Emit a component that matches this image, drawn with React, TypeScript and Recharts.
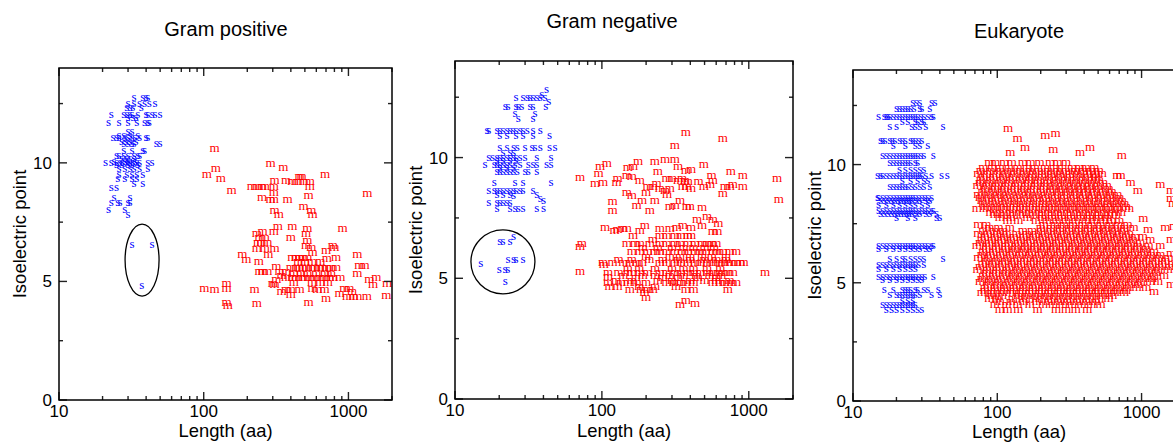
import React from "react";
import { ScatterChart, Scatter, XAxis, YAxis, ReferenceDot } from "recharts";

// [isoelectric point, lengths in aa] – one row of markers per pI level
type Row = [number, number[]];

const xTicks = [10, 20, 30, 40, 50, 60, 70, 80, 90, 100, 200, 300, 400, 500, 600, 700, 800, 900, 1000, 2000];
const xMajor = [10, 100, 1000];
const yTicks = [0, 2.5, 5, 7.5, 10, 12.5];
const yMajor = [0, 5, 10];

const gramPosS: Row[] = [
  [12.75, [33, 38, 40, 41]],
  [12.5, [30, 33, 36, 39, 42, 46]],
  [12.3, [29.4, 31, 32.4, 37]],
  [12.0, [23, 28, 29.5, 31, 32, 35, 40, 41, 44, 46, 50]],
  [11.9, [30, 32.5, 34]],
  [11.7, [22, 26, 30, 34.5, 39, 41, 42]],
  [11.3, [30, 32]],
  [11.15, [26, 28, 31, 35]],
  [11.05, [23.6, 25, 26, 28.5, 30, 32, 33.4, 36, 40, 41]],
  [10.9, [27, 29, 31, 34]],
  [10.8, [28, 30, 32, 33, 47, 50]],
  [10.5, [28, 32, 38, 39]],
  [10.3, [25, 26, 28, 30, 33, 35, 36]],
  [10.15, [27, 29, 31, 33]],
  [10.05, [24, 28.5, 30, 33.5]],
  [10.0, [21, 23, 25, 26.4, 27.5, 29.4, 31, 32.4, 34.5, 36, 41, 44]],
  [9.9, [25, 27, 30, 32, 35]],
  [9.75, [26, 28.5, 31, 33, 36, 41]],
  [9.5, [26, 29.4, 32, 34.5, 38]],
  [9.3, [25.5, 28.5, 32, 34.5]],
  [9.1, [33, 38]],
  [8.95, [23, 25]],
  [8.5, [24, 31]],
  [8.3, [23, 25.5, 26.4, 30, 31]],
  [8.0, [22, 28.5]],
  [7.8, [30]],
  [6.55, [32, 44]],
  [4.8, [37.3]],
];

const gramPosM: Row[] = [
  [10.6, [119]],
  [9.95, [290]],
  [9.8, [355]],
  [9.75, [121]],
  [9.5, [105, 690]],
  [9.4, [459, 475]],
  [9.3, [131]],
  [9.25, [309, 370]],
  [9.2, [410, 445, 490, 540]],
  [9.0, [215, 233, 253, 264, 305, 540]],
  [8.8, [156]],
  [8.75, [305]],
  [8.7, [1350]],
  [8.6, [530]],
  [8.5, [253]],
  [8.45, [290, 305, 380]],
  [8.15, [490]],
  [7.95, [309, 555]],
  [7.8, [330, 565]],
  [7.3, [325, 410]],
  [7.2, [520, 910]],
  [7.1, [255, 305]],
  [7.0, [233, 510]],
  [6.85, [243, 264, 400]],
  [6.7, [520]],
  [6.6, [237, 250, 275]],
  [6.5, [510, 780]],
  [6.4, [555, 800]],
  [6.35, [233, 264, 309]],
  [6.3, [700]],
  [6.2, [565]],
  [6.1, [185, 280, 1150]],
  [6.0, [410, 437, 459, 482, 520, 820]],
  [5.95, [710]],
  [5.9, [197]],
  [5.8, [240, 450, 500, 560, 640]],
  [5.65, [1190, 1290]],
  [5.6, [318]],
  [5.55, [400, 437, 459, 482, 510, 555, 583, 631, 660, 710, 760, 820]],
  [5.4, [243, 255, 275, 334, 370]],
  [5.3, [420, 470, 520, 600, 690, 760, 1150]],
  [5.25, [345]],
  [5.15, [370, 410, 437, 475, 500, 540, 583, 631, 680, 740, 780, 880, 1560]],
  [5.04, [318, 1396]],
  [4.95, [420, 560, 640, 720]],
  [4.9, [144, 300, 1850]],
  [4.83, [309, 1480]],
  [4.7, [101, 938, 1016]],
  [4.66, [144, 565]],
  [4.62, [119, 225, 370, 400, 459, 610, 683]],
  [4.55, [345, 1060]],
  [4.45, [867]],
  [4.41, [400]],
  [4.4, [1830]],
  [4.33, [980, 1080, 1150, 1340]],
  [4.28, [700]],
  [4.1, [530]],
  [4.07, [144]],
  [4.03, [233]],
  [3.95, [147]],
];

const gramNegS: Row[] = [
  [12.8, [42]],
  [12.6, [39]],
  [12.45, [26, 29, 31, 32.4, 34, 36, 38, 41]],
  [12.3, [43.5]],
  [12.1, [22, 23, 26, 27, 28.5, 32.4, 34, 41.5]],
  [11.8, [25.6, 35]],
  [11.6, [27, 34]],
  [11.1, [16.5, 17, 19.3, 20.2, 21.2, 22.6, 23.7, 24.8, 26, 27.7, 29, 31, 34, 38]],
  [10.9, [20.2, 22.6, 26, 29, 34, 44]],
  [10.4, [20.2, 22.6, 25, 26.5, 30, 33.4, 35, 38, 44, 48]],
  [10.2, [21.2, 23.7, 25]],
  [10.0, [17, 18, 19.3, 20.2, 21.2, 22.5, 23.7, 25, 26, 27.7, 30, 36, 45]],
  [9.85, [19.3, 21.2, 23.7, 26]],
  [9.7, [16, 18.5, 19.3, 20.2, 21.2, 22.5, 23.7, 25.6, 27.7, 31.5, 34, 36, 42, 45]],
  [9.55, [20.2, 22.5, 25]],
  [9.4, [19.3, 20.2, 21.2, 22.5, 23.7, 25, 26.5, 30, 31.5, 36]],
  [8.95, [18.5, 25.6, 29, 45]],
  [8.6, [17, 18.5, 19.3, 20.2, 21.2, 22.5, 23.7, 25, 26, 27.7, 29, 34]],
  [8.45, [19.3, 21.2, 23.7, 36]],
  [8.4, [25]],
  [8.3, [38]],
  [8.2, [40]],
  [8.1, [17, 19.3, 20.2, 21.2, 22.5, 23.7]],
  [7.85, [19.3, 23.7, 25.6, 27, 29, 36, 40]],
  [6.7, [25]],
  [6.5, [20.2, 21.2, 23.7]],
  [5.75, [23, 25, 26, 29]],
  [5.6, [15]],
  [5.35, [20, 21.9, 22.9]],
  [4.83, [22]],
];

const gramNegM: Row[] = [
  [11.0, [372]],
  [10.75, [665]],
  [10.5, [314]],
  [9.9, [269, 314]],
  [9.8, [176, 229]],
  [9.75, [108]],
  [9.7, [495]],
  [9.6, [97, 330]],
  [9.62, [163]],
  [9.55, [150]],
  [9.5, [405]],
  [9.45, [372]],
  [9.4, [240, 755]],
  [9.3, [95]],
  [9.25, [148, 557, 910]],
  [9.2, [160]],
  [9.15, [71]],
  [9.1, [128, 276, 300, 352, 1560]],
  [9.05, [181, 330, 368, 570]],
  [9.0, [385, 455]],
  [8.95, [102, 126]],
  [8.9, [90, 236]],
  [8.85, [545, 780]],
  [8.8, [205, 222, 356, 378, 495, 688, 744, 910]],
  [8.7, [248, 290, 405]],
  [8.6, [269]],
  [8.55, [148, 200]],
  [8.5, [665]],
  [8.45, [278]],
  [8.4, [160]],
  [8.25, [1600]],
  [8.2, [188, 229, 340]],
  [8.15, [118]],
  [8.0, [172, 314]],
  [7.95, [290, 378, 397]],
  [7.9, [480]],
  [7.8, [118, 212]],
  [7.55, [520]],
  [7.4, [445, 570]],
  [7.25, [620]],
  [7.15, [196, 356, 480]],
  [7.1, [105, 323, 405]],
  [7.05, [138, 148, 248, 290]],
  [7.0, [128]],
  [6.95, [122, 181]],
  [6.9, [570, 610]],
  [6.75, [163, 248, 276, 314, 345, 385, 405]],
  [6.6, [222]],
  [6.4, [73, 148, 168, 181, 212, 248, 276, 314, 340, 385, 430, 480, 520, 560, 600]],
  [6.3, [71]],
  [6.25, [190, 240, 300, 360, 420, 500, 580]],
  [6.1, [160, 181, 205, 229, 248, 276, 314, 352, 385, 430, 465, 510, 570, 610, 665, 744, 820]],
  [5.9, [200, 290, 340, 400, 480, 560, 700]],
  [5.75, [130, 160, 210, 260, 330, 400, 500, 600, 700]],
  [5.65, [102, 118, 140, 155, 172, 188, 248, 276, 314, 345, 385, 430, 470, 520, 570, 620, 665, 720, 760, 820, 880, 920]],
  [5.55, [103]],
  [5.4, [150, 180, 230, 300, 360, 420, 520, 640]],
  [5.25, [71]],
  [5.2, [110, 130, 150, 160, 181, 205, 248, 276, 314, 345, 385, 420, 470, 520, 570, 620, 665, 720, 780, 1290]],
  [5.1, [140, 190, 230, 290, 360, 440, 540, 650]],
  [5.05, [110]],
  [5.0, [170, 260, 330, 450, 600]],
  [4.9, [125, 160, 240, 300, 400, 500, 600, 740]],
  [4.8, [110, 135, 150, 172, 200, 276, 310, 345, 372, 420, 570, 640, 690, 760, 820]],
  [4.65, [113, 128, 180, 230, 320]],
  [4.5, [155, 185, 205, 222, 372, 420, 720]],
  [4.4, [195]],
  [4.2, [200]],
  [4.05, [372]],
  [3.95, [430]],
  [3.9, [340]],
];

const eukS: Row[] = [
  [12.6, [26, 27.5, 29, 35, 37]],
  [12.35, [20, 21, 22, 23, 24, 25, 26.5, 29, 30, 34]],
  [12.0, [15, 16.5, 17, 17.5, 18, 19, 20, 21, 22, 23, 24, 25, 26, 27, 28, 29.5, 31, 33, 35, 36]],
  [11.8, [22, 24, 27, 28, 30, 31]],
  [11.6, [18, 20, 25.5, 27, 29, 32, 42]],
  [11.0, [15.5, 16, 16.7, 18, 18.7, 19.5, 21, 22, 23, 25, 26, 27, 28.5, 30]],
  [10.8, [19, 23, 27, 29, 33]],
  [10.35, [16, 17, 18, 19, 20, 21, 22, 23, 24, 25, 26, 27, 28, 29.5, 31, 36]],
  [10.05, [18, 19, 20, 21, 22, 23, 24, 25, 27, 28]],
  [9.75, [21, 23, 25, 27, 29, 31]],
  [9.5, [14.8, 15.5, 16, 17, 18, 19, 20, 21, 22, 23, 24, 25, 26, 27, 28, 29, 30, 32, 35, 41, 45]],
  [9.3, [22, 25, 28, 31, 33]],
  [9.05, [18, 19, 20, 21, 22, 23, 24, 25.5, 27, 29, 31, 34]],
  [8.6, [14.8, 15, 16, 17, 18, 19, 20, 21, 22, 23, 24, 25, 26, 27, 28.5, 30, 31.5, 33, 35]],
  [8.45, [15.5, 16.5, 17.5, 18.5, 19.5, 20.5, 21.5, 22.5, 23.5, 24.5, 25.5, 27.5, 29, 32, 34]],
  [8.3, [15, 17, 19, 21, 23, 25, 27, 30, 33]],
  [8.05, [15, 16, 17, 18, 19, 20, 21, 22, 23, 24, 25, 26, 27, 28.5, 30, 31.5, 33, 35, 36]],
  [7.9, [15.5, 16.5, 17.5, 18.5, 19.5, 20.5, 21.5, 22.5, 23.5, 24.5, 25.5, 27.5, 29, 32, 34, 38]],
  [7.75, [20, 24, 27, 38, 40]],
  [6.55, [15, 16, 17, 18, 19, 20, 21, 22, 23, 24, 25, 26, 27, 28.5, 30, 31.5, 33, 35, 36]],
  [6.45, [15, 17, 19, 21, 23, 25, 27, 29, 32, 34]],
  [6.0, [18, 20, 22, 23, 25, 27, 29, 31, 42]],
  [5.75, [15, 16, 17, 18, 19, 20, 21, 22, 23, 24, 25, 26, 27, 28.5, 31]],
  [5.6, [15, 17, 19, 21, 23, 25, 27]],
  [5.25, [15, 16, 17, 18, 19, 20, 21, 22, 23, 24, 25, 26, 27, 28.5, 30, 31.5, 36]],
  [5.1, [16, 18, 20, 22, 24, 26, 28, 30]],
  [4.7, [16.5, 19, 22, 23, 24, 25, 27, 28, 31, 33, 39]],
  [4.5, [18, 20, 21, 22, 23, 24, 25, 26, 27, 29, 35, 40]],
  [4.25, [22, 24, 26]],
  [4.05, [16, 17, 18, 19, 20, 21, 22, 23, 24, 25, 26, 27]],
  [3.85, [17, 18.5, 20, 22, 24, 26, 28, 30]],
];

const eukM: Row[] = [
  [11.5, [119]],
  [11.3, [253]],
  [11.2, [215]],
  [11.1, [138]],
  [10.7, [156, 440]],
  [10.6, [245]],
  [10.5, [123, 375]],
  [10.35, [730]],
  [10.05, [88, 97, 112, 126, 150, 170, 196, 232, 262, 300]],
  [9.85, [80, 92, 104, 120, 138, 160, 182, 214, 246, 282, 330, 372, 410, 470]],
  [9.72, [77, 90, 106, 124, 144, 168, 194, 226, 262, 300, 346, 394, 445, 505]],
  [9.6, [74, 85, 99, 114, 131, 154, 176, 204, 236, 272, 318, 360, 420, 480, 530]],
  [9.5, [680, 715]],
  [9.47, [80, 94, 110, 128, 150, 174, 204, 240, 278, 320, 372, 428, 486]],
  [9.35, [77, 90, 106, 122, 144, 166, 190, 222, 255, 296, 340, 392, 452, 505]],
  [9.22, [76, 88, 103, 120, 140, 164, 192, 224, 262, 304, 352, 406, 466, 540]],
  [9.2, [840]],
  [9.15, [1350]],
  [9.1, [73, 84, 97, 113, 133, 156, 181, 210, 242, 280, 326, 378, 432, 498, 575]],
  [8.97, [82, 96, 112, 132, 154, 180, 210, 246, 286, 332, 384, 442, 508, 590]],
  [8.9, [940, 1600]],
  [8.85, [79, 93, 108, 126, 148, 170, 200, 232, 268, 310, 358, 410, 470, 540, 620]],
  [8.72, [74, 86, 100, 116, 136, 158, 184, 214, 250, 290, 336, 390, 450, 520, 600, 680]],
  [8.6, [76, 88, 102, 118, 138, 162, 188, 218, 252, 292, 340, 394, 456, 525, 610, 700]],
  [8.55, [1600]],
  [8.47, [78, 92, 108, 126, 146, 170, 198, 232, 270, 312, 362, 420, 484, 556, 640, 730]],
  [8.35, [80, 94, 110, 130, 150, 176, 206, 238, 276, 320, 372, 430, 500, 580, 660, 760, 1650]],
  [8.22, [82, 96, 112, 130, 152, 178, 208, 242, 282, 328, 380, 440, 508, 586, 676, 780]],
  [8.1, [72, 85, 99, 116, 136, 158, 185, 215, 250, 290, 336, 390, 452, 520, 600, 690, 820]],
  [7.97, [90, 104, 122, 142, 166, 194, 226, 262, 306, 354, 410, 476, 550, 630, 720]],
  [7.85, [96, 112, 130, 152, 178, 206, 240, 280, 325, 380, 440, 505, 590, 665]],
  [7.72, [104, 124, 162, 204, 240, 280, 326, 378, 438, 506, 580]],
  [7.7, [1030]],
  [7.6, [118, 140, 186, 220, 258, 300, 350, 410, 470, 545, 620, 700]],
  [7.45, [74, 84, 210, 250, 290, 335, 390, 450, 520, 600, 690, 800]],
  [7.35, [1680]],
  [7.3, [88, 102, 122, 200, 236, 272, 316, 368, 425, 490, 560, 650, 760, 880, 1460]],
  [7.25, [1110]],
  [7.17, [80, 95, 110, 150, 174, 202, 234, 272, 316, 366, 424, 492, 570, 660, 760]],
  [7.05, [74, 86, 100, 116, 136, 160, 186, 214, 250, 290, 338, 392, 454, 526, 610, 700, 820]],
  [6.92, [82, 96, 112, 130, 152, 176, 206, 240, 278, 322, 374, 434, 504, 584, 676, 784, 900, 1020]],
  [6.8, [78, 92, 107, 124, 146, 170, 198, 230, 268, 310, 360, 418, 484, 560, 650, 750, 870, 1150, 1600]],
  [6.67, [76, 88, 102, 120, 140, 162, 190, 220, 256, 298, 346, 402, 466, 540, 626, 726, 842, 980]],
  [6.55, [72, 84, 98, 114, 134, 156, 182, 212, 246, 286, 334, 388, 450, 522, 604, 700, 810, 940, 1120, 1350]],
  [6.42, [84, 98, 114, 132, 154, 180, 210, 244, 284, 330, 382, 444, 514, 596, 692, 802, 930, 1080]],
  [6.3, [80, 94, 110, 128, 150, 174, 204, 236, 274, 318, 370, 428, 498, 576, 668, 776, 900, 1050, 1220]],
  [6.2, [1600]],
  [6.17, [78, 90, 105, 122, 142, 166, 194, 226, 262, 304, 354, 410, 476, 552, 640, 742, 860, 1000, 1160, 1350]],
  [6.05, [74, 86, 101, 118, 138, 162, 188, 220, 256, 298, 346, 402, 466, 540, 626, 726, 842, 980, 1140, 1320, 1540]],
  [5.92, [84, 98, 114, 132, 154, 180, 210, 244, 282, 328, 380, 442, 512, 594, 690, 800, 928, 1080, 1250, 1460]],
  [5.8, [79, 92, 108, 126, 146, 170, 198, 230, 268, 312, 362, 420, 488, 566, 656, 762, 884, 1030, 1190, 1390, 1640]],
  [5.67, [76, 89, 104, 121, 140, 164, 190, 222, 258, 300, 348, 404, 470, 545, 632, 734, 850, 988, 1145, 1330, 1560]],
  [5.55, [73, 85, 99, 116, 136, 158, 184, 214, 250, 290, 338, 392, 456, 530, 614, 712, 828, 960, 1120, 1300, 1520]],
  [5.42, [84, 98, 114, 132, 154, 178, 208, 242, 282, 328, 380, 440, 512, 594, 690, 800, 930, 1080, 1260]],
  [5.3, [80, 94, 110, 128, 148, 172, 200, 234, 272, 316, 368, 428, 496, 576, 668, 776, 900, 1050, 1220, 1430]],
  [5.17, [78, 91, 106, 124, 144, 168, 196, 228, 264, 308, 356, 414, 482, 558, 648, 752, 872, 1010, 1180]],
  [5.05, [76, 88, 102, 120, 140, 162, 190, 220, 256, 298, 346, 404, 468, 544, 632, 734, 852, 990, 1150, 1300]],
  [4.92, [86, 100, 116, 136, 158, 184, 214, 248, 288, 336, 390, 452, 524, 608, 706, 820, 950]],
  [4.9, [1600]],
  [4.8, [82, 96, 112, 130, 152, 176, 206, 240, 278, 324, 376, 438, 508, 590, 686, 796, 924, 1080]],
  [4.67, [82, 96, 112, 130, 150, 176, 204, 238, 276, 320, 372, 432, 500, 580, 672, 780]],
  [4.6, [1220]],
  [4.55, [78, 90, 104, 122, 142, 166, 194, 226, 262, 306, 356, 414, 480, 558, 650, 756]],
  [4.42, [92, 108, 140, 162, 190, 220, 256, 298, 346, 402, 466, 540, 626]],
  [4.3, [88, 100, 128, 150, 176, 204, 238, 276, 322, 374, 436, 508, 590]],
  [4.17, [104, 124, 152, 188, 226, 264, 306, 356, 414, 480]],
  [4.05, [96, 116, 138, 168, 208, 244, 284, 330, 384, 448, 520]],
  [3.85, [104, 118, 140, 190, 256, 300, 350, 420]],
];

const H = 442;
const SANS = "'Liberation Sans', Arial, Helvetica, sans-serif";
const SERIF = "'Liberation Serif', 'Times New Roman', serif";

const toPoints = (rows: Row[]) =>
  rows.flatMap(([pI, lens]) => lens.map((len) => ({ len, pI })));

interface Box {
  pTop: number;
  pBottom: number;
  pLeft: number;
  pRight: number;
}

// ticks point inwards on both opposite sides of the frame
const makeXTick = (b: Box) => (props: any) => {
  const { x, payload } = props;
  const major = xMajor.includes(payload.value);
  const len = major ? 8 : 4;
  return (
    <g>
      <line x1={x} x2={x} y1={b.pBottom} y2={b.pBottom - len} stroke="#222" strokeWidth={1.4} />
      <line x1={x} x2={x} y1={b.pTop} y2={b.pTop + len} stroke="#222" strokeWidth={1.4} />
      {major && (
        <text x={x} y={b.pBottom + 17} textAnchor="middle" fontSize={17} fontFamily={SANS} fill="#000">
          {payload.value}
        </text>
      )}
    </g>
  );
};

const makeYTick = (b: Box) => (props: any) => {
  const { y, payload } = props;
  const major = yMajor.includes(payload.value);
  const len = major ? 8 : 4;
  return (
    <g>
      <line x1={b.pLeft} x2={b.pLeft + len} y1={y} y2={y} stroke="#222" strokeWidth={1.4} />
      <line x1={b.pRight} x2={b.pRight - len} y1={y} y2={y} stroke="#222" strokeWidth={1.4} />
      {major && (
        <text x={b.pLeft - 7} y={y + 6} textAnchor="end" fontSize={17} fontFamily={SANS} fill="#000">
          {payload.value}
        </text>
      )}
    </g>
  );
};

const glyph = (ch: string, color: string) => (p: any) => (
  <text x={p.cx} y={p.cy + 3} textAnchor="middle" fontSize={13} fontFamily={SERIF} fill={color}>
    {ch}
  </text>
);

interface PanelProps {
  left: number;
  width: number;
  yAxisWidth: number;
  top: number;
  xAxisHeight: number;
  marginRight: number;
  title: string;
  titleX: number;
  titleY: number;
  yLabelX: number;
  xLabelY: number;
  s: Row[];
  m: Row[];
  ring?: { len: number; pI: number; rx: number; ry: number };
}

const Panel: React.FC<PanelProps> = (cfg) => {
  const box: Box = {
    pTop: cfg.top,
    pBottom: H - cfg.xAxisHeight,
    pLeft: cfg.yAxisWidth,
    pRight: cfg.width - cfg.marginRight,
  };
  const ring = cfg.ring;
  const midY = (box.pTop + box.pBottom) / 2;
  return (
    <div style={{ position: "absolute", left: cfg.left, top: 0, width: cfg.width, height: H }}>
      <ScatterChart
        width={cfg.width}
        height={H}
        margin={{ top: cfg.top, right: cfg.marginRight, bottom: 0, left: 0 }}
      >
        <XAxis
          dataKey="len"
          type="number"
          scale="log"
          domain={[10, 2000]}
          allowDataOverflow
          ticks={xTicks}
          interval={0}
          height={cfg.xAxisHeight}
          tickSize={0}
          tickLine={false}
          axisLine={false}
          tick={makeXTick(box)}
        />
        <YAxis
          dataKey="pI"
          type="number"
          domain={[0, 14]}
          allowDataOverflow
          ticks={yTicks}
          interval={0}
          width={cfg.yAxisWidth}
          tickSize={0}
          tickLine={false}
          axisLine={false}
          tick={makeYTick(box)}
        />
        <Scatter data={toPoints(cfg.s)} fill="#0000ff" shape={glyph("s", "#0000ff")} isAnimationActive={false} />
        <Scatter data={toPoints(cfg.m)} fill="#ff0000" shape={glyph("m", "#ff0000")} isAnimationActive={false} />
        {ring && (
          <ReferenceDot
            x={ring.len}
            y={ring.pI}
            r={1}
            shape={(p: any) => (
              <ellipse cx={p.cx} cy={p.cy} rx={ring.rx} ry={ring.ry} fill="none" stroke="#000" strokeWidth={1.3} />
            )}
          />
        )}
      </ScatterChart>
      <svg
        width={cfg.width}
        height={H}
        style={{ position: "absolute", left: 0, top: 0, pointerEvents: "none" }}
      >
        <rect
          x={box.pLeft}
          y={box.pTop}
          width={box.pRight - box.pLeft}
          height={box.pBottom - box.pTop}
          fill="none"
          stroke="#000"
          strokeWidth={1.5}
        />
        <text x={cfg.titleX} y={cfg.titleY} textAnchor="middle" fontSize={20} fontFamily={SANS} fill="#000">
          {cfg.title}
        </text>
        <text
          x={(box.pLeft + box.pRight) / 2}
          y={cfg.xLabelY}
          textAnchor="middle"
          fontSize={18.4}
          fontFamily={SANS}
          fill="#000"
        >
          Length (aa)
        </text>
        <text
          x={cfg.yLabelX}
          y={midY}
          transform={`rotate(-90 ${cfg.yLabelX} ${midY})`}
          textAnchor="middle"
          fontSize={18.5}
          fontFamily={SANS}
          fill="#000"
        >
          Isoelectric point
        </text>
      </svg>
    </div>
  );
};

export default function App() {
  return (
    <div
      style={{
        position: "absolute",
        left: 0,
        top: 0,
        width: 1173,
        height: H,
        overflow: "hidden",
        background: "#fff",
      }}
    >
      <Panel
        left={0}
        width={400}
        yAxisWidth={59}
        top={68}
        xAxisHeight={42}
        marginRight={8}
        title="Gram positive"
        titleX={226}
        titleY={36}
        yLabelX={26}
        xLabelY={437}
        s={gramPosS}
        m={gramPosM}
        ring={{ len: 37.5, pI: 5.9, rx: 17, ry: 36 }}
      />
      <Panel
        left={400}
        width={400}
        yAxisWidth={55}
        top={61}
        xAxisHeight={43}
        marginRight={7}
        title="Gram negative"
        titleX={212}
        titleY={28}
        yLabelX={22}
        xLabelY={437}
        s={gramNegS}
        m={gramNegM}
        ring={{ len: 21.2, pI: 5.68, rx: 32, ry: 32 }}
      />
      <Panel
        left={800}
        width={400}
        yAxisWidth={53}
        top={70}
        xAxisHeight={41}
        marginRight={15}
        title="Eukaryote"
        titleX={219}
        titleY={38}
        yLabelX={21}
        xLabelY={438}
        s={eukS}
        m={eukM}
      />
    </div>
  );
}
